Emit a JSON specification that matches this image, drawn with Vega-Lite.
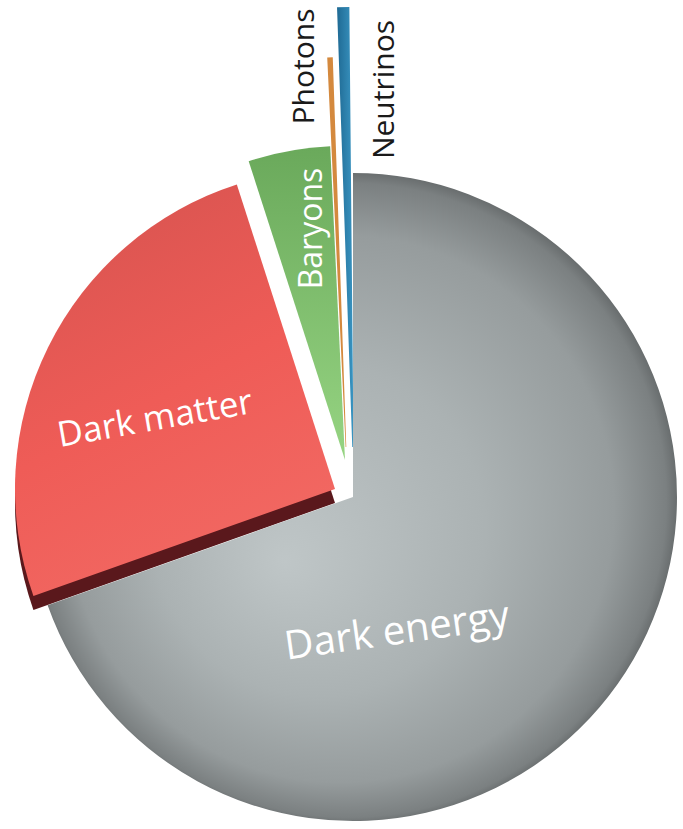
{
  "$schema": "https://vega.github.io/schema/vega-lite/v6.json",
  "width": 660,
  "height": 654,
  "autosize": {"type": "none"},
  "padding": {"left": 23, "top": 170, "right": 0, "bottom": 5},
  "background": "white",
  "config": {"view": {"stroke": null}, "text": {"font": "Open Sans"}},
  "data": {
    "values": [
      {"category": "Dark energy", "value": 69.4},
      {"category": "Dark matter", "value": 25.4},
      {"category": "Baryons", "value": 4.2},
      {"category": "Photons", "value": 0.2},
      {"category": "Neutrinos", "value": 0.4}
    ]
  },
  "transform": [{"stack": "value", "groupby": [], "as": ["v0", "v1"]}],
  "layer": [
    {
      "transform": [{"filter": "datum.category === 'Photons'"}],
      "mark": {"type": "arc", "radius": 440, "radius2": 50, "xOffset": -5, "color": "#d4893e"},
      "encoding": {
        "theta": {"field": "v0", "type": "quantitative", "scale": {"domain": [0, 99.75]}},
        "theta2": {"field": "v1"}
      }
    },
    {
      "transform": [{"filter": "datum.category === 'Neutrinos'"}],
      "mark": {"type": "arc", "radius": 490, "radius2": 50, "xOffset": 1,
        "color": {"gradient": "linear", "x1": 0, "y1": 0, "x2": 1, "y2": 0,
          "stops": [{"offset": 0, "color": "#1f6a94"}, {"offset": 1, "color": "#3a95c2"}]}},
      "encoding": {
        "theta": {"field": "v0", "type": "quantitative", "scale": {"domain": [0, 99.75]}},
        "theta2": {"field": "v1"}
      }
    },
    {
      "transform": [{"filter": "datum.category === 'Dark matter'"}],
      "mark": {"type": "arc", "radius": 320, "xOffset": -18, "yOffset": 6, "color": "#5a181c"},
      "encoding": {
        "theta": {"field": "v0", "type": "quantitative", "scale": {"domain": [0, 99.75]}},
        "theta2": {"field": "v1"}
      }
    },
    {
      "transform": [{"filter": "datum.category === 'Dark energy'"}],
      "mark": {"type": "arc", "radius": 324,
        "color": {"gradient": "radial", "x1": 0.38, "y1": 0.6, "r1": 0, "x2": 0.485, "y2": 0.5, "r2": 0.515,
          "stops": [
            {"offset": 0, "color": "#bfc6c7"},
            {"offset": 0.5, "color": "#abb2b3"},
            {"offset": 0.82, "color": "#969c9d"},
            {"offset": 0.95, "color": "#7b8081"},
            {"offset": 1, "color": "#5a5e5f"}
          ]}},
      "encoding": {
        "theta": {"field": "v0", "type": "quantitative", "scale": {"domain": [0, 99.75]}},
        "theta2": {"field": "v1"}
      }
    },
    {
      "transform": [{"filter": "datum.category === 'Dark matter'"}],
      "mark": {"type": "arc", "radius": 320, "xOffset": -18, "yOffset": -8,
        "color": {"gradient": "linear", "x1": 0.3, "y1": 0, "x2": 0.7, "y2": 1,
          "stops": [
            {"offset": 0, "color": "#d85450"},
            {"offset": 0.5, "color": "#ef5c57"},
            {"offset": 1, "color": "#f26a64"}
          ]}},
      "encoding": {
        "theta": {"field": "v0", "type": "quantitative", "scale": {"domain": [0, 99.75]}},
        "theta2": {"field": "v1"}
      }
    },
    {
      "transform": [{"filter": "datum.category === 'Baryons'"}],
      "mark": {"type": "arc", "radius": 314, "xOffset": -8, "yOffset": -37,
        "color": {"gradient": "linear", "x1": 0, "y1": 0, "x2": 0, "y2": 1,
          "stops": [
            {"offset": 0, "color": "#6aa95b"},
            {"offset": 1, "color": "#96d482"}
          ]}},
      "encoding": {
        "theta": {"field": "v0", "type": "quantitative", "scale": {"domain": [0, 99.75]}},
        "theta2": {"field": "v1"}
      }
    },
    {
      "transform": [{"filter": "datum.category === 'Dark energy'"}],
      "mark": {"type": "text", "radius": 142, "thetaOffset": 2.8265, "angle": 352, "fontSize": 40,
        "color": "white", "align": "center", "baseline": "middle"},
      "encoding": {
        "theta": {"field": "v0", "type": "quantitative", "scale": {"domain": [0, 99.75]}},
        "text": {"field": "category"}
      }
    },
    {
      "transform": [{"filter": "datum.category === 'Dark matter'"}],
      "mark": {"type": "text", "radius": 212.8, "thetaOffset": 0.716, "angle": 350, "fontSize": 35,
        "color": "white", "align": "center", "baseline": "middle"},
      "encoding": {
        "theta": {"field": "v0", "type": "quantitative", "scale": {"domain": [0, 99.75]}},
        "text": {"field": "category"}
      }
    },
    {
      "transform": [{"filter": "datum.category === 'Baryons'"}],
      "mark": {"type": "text", "radius": 271.6, "thetaOffset": 0.1602, "angle": 270, "fontSize": 32,
        "color": "white", "align": "center", "baseline": "middle"},
      "encoding": {
        "theta": {"field": "v0", "type": "quantitative", "scale": {"domain": [0, 99.75]}},
        "text": {"field": "category"}
      }
    },
    {
      "transform": [{"filter": "datum.category === 'Photons'"}],
      "mark": {"type": "text", "radius": 433.2, "thetaOffset": -0.0649, "angle": 270, "fontSize": 30,
        "color": "#1a1a1a", "align": "center", "baseline": "middle"},
      "encoding": {
        "theta": {"field": "v0", "type": "quantitative", "scale": {"domain": [0, 99.75]}},
        "text": {"field": "category"}
      }
    },
    {
      "transform": [{"filter": "datum.category === 'Neutrinos'"}],
      "mark": {"type": "text", "radius": 408.7, "thetaOffset": 0.1121, "angle": 270, "fontSize": 30,
        "color": "#1a1a1a", "align": "center", "baseline": "middle"},
      "encoding": {
        "theta": {"field": "v0", "type": "quantitative", "scale": {"domain": [0, 99.75]}},
        "text": {"field": "category"}
      }
    }
  ]
}
